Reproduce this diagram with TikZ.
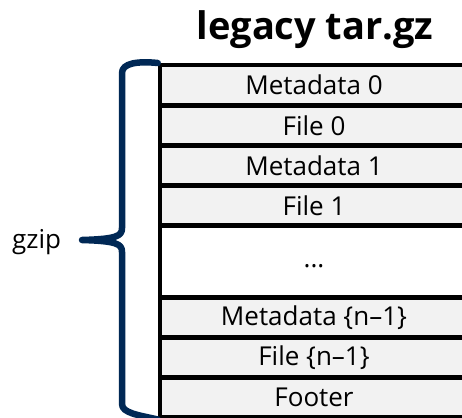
\documentclass[tikz,border=0pt]{standalone}
\usepackage{fontspec}
\setmainfont{Open Sans}
\definecolor{navy}{RGB}{0,40,85}
\definecolor{rowgray}{RGB}{242,242,242}
\begin{document}
\begin{tikzpicture}[x=1pt,y=-1pt,
  row/.style={draw=black,line width=4.5pt,fill=rowgray,minimum width=308pt,
    minimum height=#1,inner sep=0pt,anchor=north,
    font=\fontsize{26}{26}\selectfont},
  row/.default=40pt,
  brace/.style={draw=navy,line width=6.5pt,line cap=round,line join=round},
  label/.style={inner sep=0pt,font=\fontsize{26}{26}\selectfont}]
\useasboundingbox (0,0) rectangle (462,417);
\node[font=\fontsize{38}{38}\selectfont\bfseries,anchor=base,inner sep=0pt] (title) at (315,40) {legacy tar.gz};
\begin{scope}
  \clip (0,0) rectangle (462,417);
  \node[row] (m0) at (314,63) {Metadata 0};
  \node[row] (f0) at (314,103) {File 0};
  \node[row] (m1) at (314,143) {Metadata 1};
  \node[row] (f1) at (314,183) {File 1};
  \node[row=72pt,fill=white] (dots) at (314,223) {\vphantom{Mg}...};
  \node[row] (mn) at (314,295) {Metadata \{n--1\}};
  \node[row] (fn) at (314,335) {File \{n--1\}};
  \node[row] (foot) at (314,375) {Footer};
\end{scope}
\node[label,anchor=base west] (gzip) at (12,248) {gzip};
% curly brace spanning all rows
\coordinate (tip) at (82,240);
\draw[brace] (m0.north west) .. controls (138,61) and (122,63) .. (122,73)
  -- (122,228) .. controls (122,236) and (117,239) .. (tip)
  .. controls (117,241) and (122,244) .. (122,252)
  -- (122,404) .. controls (122,413) and (138,415) .. (foot.south west);
\end{tikzpicture}
\end{document}
